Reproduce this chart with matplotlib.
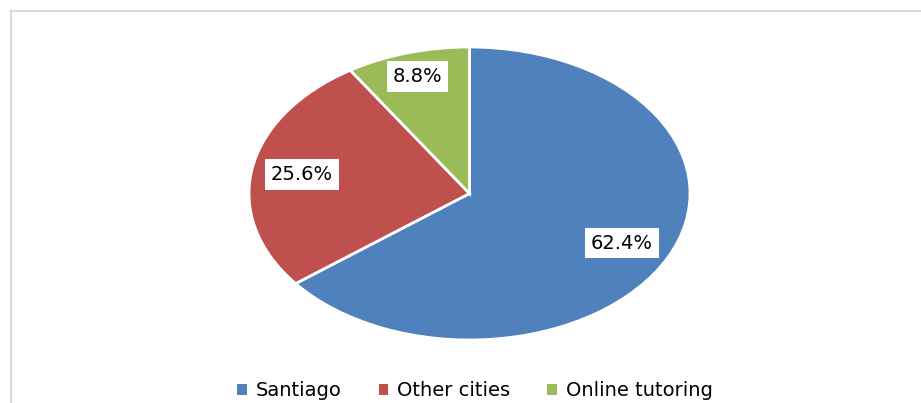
import matplotlib.pyplot as plt

# data
categories = ["Santiago", "Other cities", "Online tutoring"]
values = [62.4, 25.6, 8.8]
colors = ["#4F81BD", "#C0504D", "#9BBB59"]

total = sum(values)

fig = plt.figure(figsize=(9.21, 4.03), dpi=100)

# outer chart border: an empty axes with only left and top spines
frame = fig.add_axes([10.5 / 921, 0, 1 - 10.5 / 921, 1 - 10.5 / 403])
frame.set_xticks([])
frame.set_yticks([])
frame.patch.set_alpha(0)
for side in ["right", "bottom"]:
    frame.spines[side].set_visible(False)
for side in ["left", "top"]:
    frame.spines[side].set_color("#d9d9d9")
    frame.spines[side].set_linewidth(1.5)

# axes sized so the pie becomes an ellipse
ax = fig.add_axes([249 / 921, 63 / 403, 441 / 921, 293 / 403])
wedges, texts, autotexts = ax.pie(
    values, colors=colors, startangle=90, counterclock=False,
    autopct=lambda p: "%.1f%%" % (p * total / 100), pctdistance=0.77,
    wedgeprops=dict(edgecolor="white", linewidth=2),
    textprops=dict(fontsize=14, color="black"))
ax.set_aspect("auto")
ax.set_xlim(-1, 1)
ax.set_ylim(-1, 1)
ax.axis("off")

for t in autotexts:
    t.set_bbox(dict(boxstyle="square,pad=0.3", facecolor="white", edgecolor="none"))
# small slice label sits a bit further out
x, y = autotexts[2].get_position()
autotexts[2].set_position((x * 1.08, y * 1.08))

leg = ax.legend(wedges, categories, loc="center", ncol=3, frameon=False,
                bbox_to_anchor=(475 / 921, 1 - 391 / 403), bbox_transform=fig.transFigure,
                fontsize=14, handlelength=0.5, handleheight=0.5, handletextpad=0.45,
                columnspacing=1.9)
for h in leg.legend_handles:
    h.set_edgecolor("none")

fig.savefig("out.png", dpi=100)
